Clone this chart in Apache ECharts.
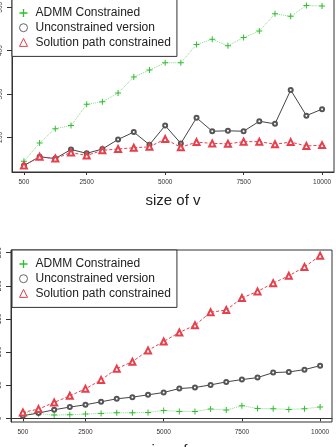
<!DOCTYPE html>
<html>
<head>
<meta charset="utf-8">
<script src="https://cdn.jsdelivr.net/npm/echarts@6/dist/echarts.min.js"></script>
<style>
  html, body { margin: 0; padding: 0; background: #fff; }
  #chart { width: 336px; height: 447px; }
</style>
</head>
<body>
<div id="chart"></div>
<script>
// x 軸: size of v
const sizes = [500, 1000, 1500, 2000, 2500, 3000, 3500, 4000, 4500, 5000,
               5500, 6000, 6500, 7000, 7500, 8000, 8500, 9000, 9500, 10000];
const xTicks = [500, 2500, 5000, 7500, 10000];

// 上圖
const topAdmm = [145, 187, 220, 227, 276, 282, 302, 339, 355, 372, 372, 414, 426, 411, 430, 445, 485, 479, 504, 503];
const topUncon = [135, 155, 151, 172, 163, 173, 195, 212, 183, 227, 186, 245, 214, 215, 214, 237, 231, 309, 250, 265];
const topPath = [135, 155, 151, 165, 158, 170, 173, 176, 178, 196, 177, 189, 186, 185, 190, 190, 184, 189, 180, 182];
const topYTicks = [200, 300, 400, 500];

// 下圖
const botAdmm = [9, 7, 5, 5.5, 6.5, 7.5, 8.5, 8.5, 9, 12, 10.5, 10.5, 14, 12.5, 19, 15, 14.5, 13.5, 14.5, 17];
const botUncon = [4, 8, 13, 17, 20.5, 25, 29.5, 32, 35.5, 39, 45, 46.5, 50.5, 55, 58.5, 61.5, 69, 70, 73.5, 79.5];
const botPath = [9, 14, 24, 34, 44.5, 58, 75, 85.5, 102.5, 116, 129.5, 140.5, 160, 163.5, 181.5, 191.5, 204, 215, 228.5, 245.5];
const botYTicks = [0, 50, 100, 150, 200, 250];

const names = ['ADMM Constrained', 'Unconstrained version', 'Solution path constrained'];

const GREEN = '#2fbf2f';
const GREEN_LINE = '#86dc86';
const GREY = '#555';
const RED = '#e5404c';
const FONT = 'Liberation Sans, Arial, sans-serif';
const PLUS = 'path://M5,0H7V5H12V7H7V12H5V7H0V5H5Z';

const pairs = (ys) => sizes.map((x, i) => [x, ys[i]]);

function xAxisFor(gridIndex) {
    return {
        type: 'value', gridIndex: gridIndex,
        min: 120, max: 10380,
        name: 'size of v', nameLocation: 'middle', nameGap: 21,
        nameTextStyle: { fontSize: 15, color: '#222', fontFamily: FONT },
        axisLine: { show: true, lineStyle: { color: '#333' } },
        axisTick: { customValues: xTicks, length: 3, lineStyle: { color: '#333' } },
        axisLabel: { customValues: xTicks, formatter: (v) => String(v), fontSize: 6.5, margin: 7, color: '#333', fontFamily: FONT },
        splitLine: { show: false }
    };
}

function yAxisFor(gridIndex, min, max, ticks) {
    return {
        type: 'value', gridIndex: gridIndex, min: min, max: max,
        axisLine: { show: true, lineStyle: { color: '#333' } },
        axisTick: { customValues: ticks, length: 5, lineStyle: { color: '#333' } },
        axisLabel: { customValues: ticks, formatter: (v) => String(v), rotate: 90, fontSize: 6.5, margin: 8, color: '#333', fontFamily: FONT },
        splitLine: { show: false }
    };
}

function legendFor(top) {
    return {
        orient: 'vertical', left: 12, top: top,
        padding: [8, 6, 8, 7], itemGap: 2.7,
        itemWidth: 8, itemHeight: 8,
        backgroundColor: '#fff', borderColor: '#333', borderWidth: 1,
        textStyle: { fontSize: 12, lineHeight: 12, color: '#222', fontFamily: FONT, padding: [0, 0, 0, 3] },
        data: [
            { name: names[0], icon: PLUS, itemStyle: { color: GREEN, borderWidth: 0 } },
            { name: names[1], icon: 'circle', itemStyle: { color: '#fff', borderColor: GREY, borderWidth: 0.9 } },
            { name: names[2], icon: 'triangle', itemStyle: { color: '#fff', borderColor: RED, borderWidth: 1 } }
        ],
        selectedMode: false
    };
}

function seriesFor(gridIndex, admm, uncon, path) {
    return [
        {
            name: names[0], type: 'line', xAxisIndex: gridIndex, yAxisIndex: gridIndex,
            data: pairs(admm), symbol: PLUS, symbolSize: 6,
            itemStyle: { color: GREEN },
            lineStyle: { color: GREEN_LINE, width: 1, type: 'dotted' }
        },
        {
            name: names[1], type: 'line', xAxisIndex: gridIndex, yAxisIndex: gridIndex,
            data: pairs(uncon), symbol: 'emptyCircle', symbolSize: 4,
            itemStyle: { color: GREY, borderWidth: 0.8 },
            lineStyle: { color: '#444', width: 1 }
        },
        {
            name: names[2], type: 'line', xAxisIndex: gridIndex, yAxisIndex: gridIndex,
            data: pairs(path), symbol: 'emptyTriangle', symbolSize: 6,
            itemStyle: { color: RED, borderWidth: 0.8 },
            lineStyle: { color: RED, width: 1, type: [3, 2] }
        }
    ];
}

const chart = echarts.init(document.getElementById('chart'));
chart.setOption({
    animation: false,
    backgroundColor: '#fff',
    grid: [
        { left: 12, right: 2, top: -1, height: 173, outerBoundsMode: 'none', show: true, borderColor: '#333', borderWidth: 1 },
        { left: 11, right: 4, top: 250, height: 172, outerBoundsMode: 'none', show: true, borderColor: '#333', borderWidth: 1 }
    ],
    legend: [legendFor(-1), legendFor(250)],
    xAxis: [xAxisFor(0), xAxisFor(1)],
    yAxis: [yAxisFor(0, 120, 519, topYTicks), yAxisFor(1, -5.5, 254, botYTicks)],
    series: seriesFor(0, topAdmm, topUncon, topPath).concat(seriesFor(1, botAdmm, botUncon, botPath))
});
</script>
</body>
</html>
